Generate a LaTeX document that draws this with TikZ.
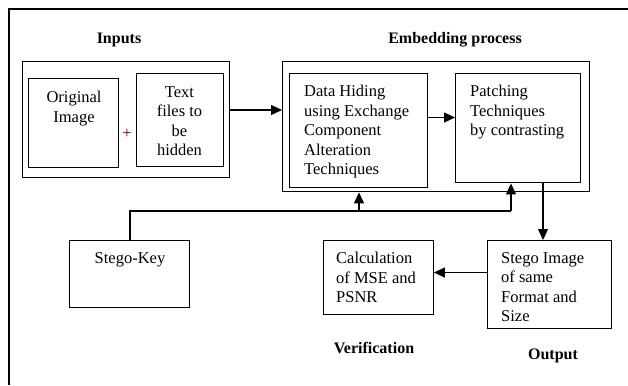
\documentclass[tikz,border=0pt]{standalone}
\usepackage{fontspec}
\setmainfont{LiberationSerif-Regular.ttf}[BoldFont=LiberationSerif-Bold.ttf]
\usetikzlibrary{arrows.meta}
\begin{document}
\begin{tikzpicture}[x=1pt,y=-1pt,
  box/.style={draw, line width=1.4pt, inner sep=0pt, anchor=north west},
  txt/.style={font=\fontsize{16.5}{19.5}\selectfont, inner sep=0pt, align=left, anchor=north west},
  ctxt/.style={txt, align=center, anchor=north},
  ttl/.style={font=\fontsize{16}{19}\selectfont\bfseries, inner sep=0pt},
  link/.style={line width=1.2pt},
  arr/.style={link, -{Triangle[length=11pt,width=10pt]}}]
\useasboundingbox (0,0) rectangle (628,385);

% page frame (left and top edges)
\draw[line width=1.4pt] (9,385) -- (9,9) -- (628,9);

% titles
\node[ttl] (tin) at (119,40) {Inputs};
\node[ttl] (temb) at (455,40) {Embedding process};
\node[ttl] (tver) at (374,348) {Verification};
\node[ttl] (tout) at (553,356) {Output};

% inputs group
\node[box, minimum width=207, minimum height=116] (inp) at (22,61) {};
\node[box, minimum width=90, minimum height=89] (orig) at (28,78) {};
\node[ctxt] (origt) at (74,91) {Original\\Image};
\node[box, minimum width=87, minimum height=93] (tf) at (136,73) {};
\node[ctxt] (tft) at (179.5,86) {Text\\files to\\be\\hidden};
\node[font=\fontsize{16.5}{19.5}\selectfont, text=red!45!black, inner sep=0pt] (plus) at (127,134) {+};

% embedding group
\node[box, minimum width=307, minimum height=130] (emb) at (282,61) {};
\node[box, minimum width=138, minimum height=114] (dh) at (289,73) {};
\node[txt] (dht) at (304,85) {Data Hiding\\using Exchange\\Component\\Alteration\\Techniques};
\node[box, minimum width=125, minimum height=109] (pt) at (455,73) {};
\node[txt] (ptt) at (470,85) {Patching\\Techniques\\by contrasting};

% lower boxes
\node[box, minimum width=120, minimum height=67] (sk) at (69,240) {};
\node[ctxt] (skt) at (130,252) {Stego-Key};
\node[box, minimum width=110, minimum height=74] (calc) at (322.5,240) {};
\node[txt] (calct) at (336,252) {Calculation\\of MSE and\\PSNR};
\node[box, minimum width=124, minimum height=88] (si) at (487,240) {};
\node[txt] (sit) at (501,252) {Stego Image\\of same\\Format and\\Size};

% connectors
\draw[arr] (inp.east |- 0,110) -- (emb.west |- 0,110);
\draw[arr] (dh.east |- 0,117.5) -- (pt.west |- 0,117.5);
\coordinate (kj) at (130,211);
\draw[link] (sk.north -| kj) -- (kj) -- (511,211);
\draw[arr] (359,211) -- (emb.south -| 359,0);
\draw[arr] (511,211) -- (pt.south -| 511,0);
\draw[arr] (pt.south -| 543,0) -- (si.north -| 543,0);
\draw[arr] (si.west |- 0,272.5) -- (calc.east |- 0,272.5);
\end{tikzpicture}
\end{document}
